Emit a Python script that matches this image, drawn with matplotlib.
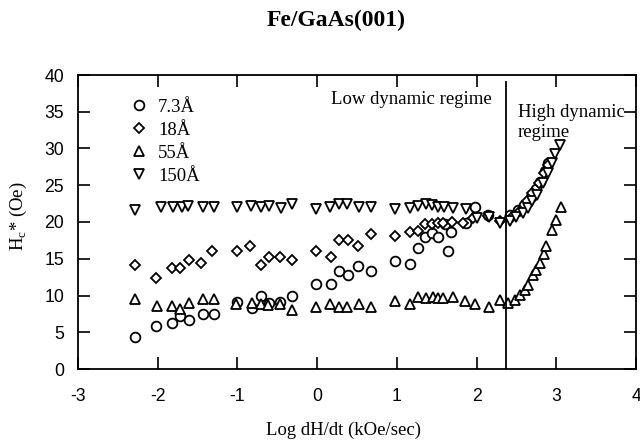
import matplotlib
matplotlib.use("Agg")
import matplotlib.pyplot as plt

# Hc* vs log sweep rate
x_73 = [-2.29, -2.02, -1.82, -1.72, -1.61, -1.43, -1.30, -1.00, -0.82, -0.71, -0.61, -0.47, -0.31,
        -0.01, 0.18, 0.28, 0.39, 0.51, 0.67, 0.98, 1.16, 1.27, 1.35, 1.44, 1.52, 1.60, 1.64, 1.68,
        1.87, 1.98, 2.14, 2.42, 2.52, 2.60, 2.68, 2.74, 2.80, 2.86, 2.90]
y_73 = [4.4, 5.8, 6.3, 7.2, 6.6, 7.5, 7.5, 9.1, 8.3, 9.9, 9.0, 9.1, 9.9,
        11.5, 11.5, 13.3, 12.8, 14.0, 13.3, 14.7, 14.3, 16.5, 18.0, 18.5, 18.0, 19.7, 16.0, 18.7,
        19.9, 22.1, 21.0, 21.0, 21.6, 22.3, 23.4, 24.5, 25.5, 27.0, 28.0]

x_18 = [-2.29, -2.02, -1.82, -1.72, -1.61, -1.46, -1.32, -1.01, -0.84, -0.70, -0.61, -0.46, -0.31,
        -0.01, 0.18, 0.28, 0.39, 0.51, 0.67, 0.98, 1.16, 1.27, 1.35, 1.44, 1.52, 1.58, 1.69, 1.83,
        1.96, 2.14, 2.29, 2.45, 2.55, 2.63, 2.70, 2.78, 2.85, 2.90]
y_18 = [14.1, 12.4, 13.7, 13.7, 14.8, 14.4, 16.0, 16.0, 16.7, 14.1, 15.2, 15.2, 14.8,
        16.0, 15.2, 17.6, 17.6, 16.7, 18.3, 18.1, 18.7, 18.8, 19.7, 19.7, 19.9, 19.8, 20.0, 19.9,
        20.6, 20.8, 20.1, 20.7, 21.5, 22.8, 24.0, 25.3, 26.6, 27.8]

x_55 = [-2.29, -2.01, -1.82, -1.72, -1.61, -1.43, -1.30, -1.02, -0.82, -0.71, -0.62, -0.47, -0.31,
        -0.02, 0.16, 0.28, 0.38, 0.52, 0.68, 0.98, 1.16, 1.27, 1.36, 1.45, 1.52, 1.58, 1.70, 1.85,
        1.98, 2.15, 2.29, 2.40, 2.48, 2.54, 2.61, 2.65, 2.71, 2.75, 2.79, 2.84, 2.87, 2.95, 3.00, 3.06]
y_55 = [9.5, 8.6, 8.6, 8.2, 9.0, 9.5, 9.5, 8.9, 9.0, 8.8, 8.7, 8.8, 8.0,
        8.5, 8.9, 8.5, 8.5, 8.9, 8.5, 9.3, 8.9, 9.8, 9.6, 9.8, 9.7, 9.6, 9.8, 9.2,
        8.9, 8.5, 9.4, 8.95, 9.4, 10.1, 10.8, 11.4, 12.8, 13.5, 14.4, 15.7, 16.7, 18.9, 20.3, 22.1]

x_150 = [-2.28, -1.96, -1.81, -1.69, -1.62, -1.43, -1.29, -1.01, -0.83, -0.71, -0.61, -0.45, -0.31,
         -0.02, 0.16, 0.28, 0.38, 0.52, 0.68, 0.98, 1.16, 1.27, 1.36, 1.44, 1.52, 1.59, 1.70, 1.87,
         2.00, 2.15, 2.29, 2.42, 2.50, 2.58, 2.64, 2.70, 2.76, 2.83, 2.89, 2.95, 2.99, 3.05]
y_150 = [21.6, 22.0, 22.0, 22.0, 22.2, 22.0, 22.0, 22.0, 22.2, 22.0, 22.2, 21.9, 22.4,
         21.8, 22.0, 22.5, 22.5, 22.0, 22.0, 21.8, 21.9, 22.2, 22.4, 22.3, 22.1, 22.0, 21.9, 21.8,
         20.5, 20.7, 19.9, 20.2, 20.7, 21.2, 21.9, 22.8, 23.7, 25.3, 26.7, 28.0, 29.2, 30.5]

labels = ["7.3Å", "18Å", "55Å", "150Å"]
boundary = 2.37

plt.rcParams["mathtext.fontset"] = "custom"
plt.rcParams["mathtext.rm"] = "Liberation Serif"
plt.rcParams["axes.unicode_minus"] = False
serif = "Liberation Serif"

fig = plt.figure(figsize=(6.4, 4.4), dpi=100)
ax = fig.add_axes([78 / 640, (440 - 369) / 440, 558 / 640, 294 / 440])

mk = dict(linestyle="none", markerfacecolor="white", markeredgecolor="black", markeredgewidth=1.3)
ax.plot(x_73, y_73, marker="o", markersize=7, label=labels[0], **mk)
ax.plot(x_18, y_18, marker="D", markersize=5.2, label=labels[1], **mk)
ax.plot(x_55, y_55, marker="^", markersize=7.2, label=labels[2], **mk)
ax.plot(x_150, y_150, marker="v", markersize=7.2, label=labels[3], **mk)

ax.axvline(boundary, ymin=0, ymax=39 / 40, color="black", linewidth=1.3)

ax.text(0.17, 36.0, "Low dynamic regime", family=serif, fontsize=13.5)
ax.text(2.52, 34.3, "High dynamic", family=serif, fontsize=13.5)
ax.text(2.52, 31.6, "regime", family=serif, fontsize=13.5)

ax.set_xlim(-3, 4)
ax.set_ylim(0, 40)
ax.set_xticks(range(-3, 5))
ax.set_yticks(range(0, 41, 5))
ax.tick_params(direction="in", top=True, right=True, length=8.5, width=1.2, labelsize=12.7)
ax.tick_params(axis="x", pad=14)
ax.tick_params(axis="y", pad=10)
for lab in ax.get_xticklabels() + ax.get_yticklabels():
    lab.set_family("Liberation Sans")
for s in ax.spines.values():
    s.set_linewidth(1.3)

ax.legend(loc="upper left", bbox_to_anchor=(0.093, 0.92), frameon=False,
          prop={"family": serif, "size": 13.5}, handletextpad=0.5, labelspacing=0.32,
          borderaxespad=0, borderpad=0, handlelength=1.0)

fig.text(344 / 640, 1 - 430 / 440, "Log dH/dt (kOe/sec)", family=serif, fontsize=13.5,
         ha="center", va="center")
fig.text(18 / 640, 1 - 216 / 440, r"H$_{\mathrm{c}}$* (Oe)", family=serif, fontsize=13.5,
         ha="center", va="center", rotation=90)
fig.text(336 / 640, 1 - 20 / 440, "Fe/GaAs(001)", family=serif, fontsize=17, fontweight="bold",
         ha="center", va="center")

fig.savefig("out.png", dpi=100)
